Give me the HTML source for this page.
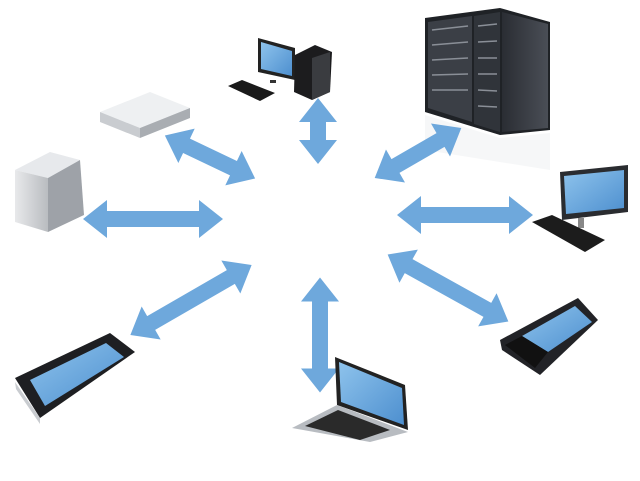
<!DOCTYPE html><html><head><style>html,body{margin:0;padding:0;background:#fff}svg{display:block}</style></head><body>
<svg width="640" height="481" viewBox="0 0 640 481" xmlns="http://www.w3.org/2000/svg">
<defs>
<linearGradient id="rack" x1="0" x2="1"><stop offset="0" stop-color="#2a2d33"/><stop offset="1" stop-color="#4a4e56"/></linearGradient>
<linearGradient id="scr" x1="0" y1="0" x2="1" y2="1"><stop offset="0" stop-color="#8ec3ec"/><stop offset="1" stop-color="#4d8fcf"/></linearGradient>
<linearGradient id="grey" x1="0" x2="1"><stop offset="0" stop-color="#e8e9eb"/><stop offset="1" stop-color="#b9bcc0"/></linearGradient>
</defs>
<polygon points="425,115 500,138 550,133 550,170 425,150" fill="#f2f3f5" opacity="0.7"/>
<g fill="#6ea8dc">
<path transform="translate(318,131) rotate(90)" d="M-33,0 L-9,-19 L-9,-8 L9,-8 L9,-19 L33,0 L9,19 L9,8 L-9,8 L-9,19 Z"/>
<path transform="translate(210,157) rotate(25.5)" d="M-50,0 L-26,-19 L-26,-8 L26,-8 L26,-19 L50,0 L26,19 L26,8 L-26,8 L-26,19 Z"/>
<path transform="translate(153,219)" d="M-70,0 L-46,-19 L-46,-8 L46,-8 L46,-19 L70,0 L46,19 L46,8 L-46,8 L-46,19 Z"/>
<path transform="translate(191,300) rotate(-30)" d="M-70,0 L-46,-19 L-46,-8 L46,-8 L46,-19 L70,0 L46,19 L46,8 L-46,8 L-46,19 Z"/>
<path transform="translate(320,335) rotate(90)" d="M-57.5,0 L-33.5,-19 L-33.5,-8 L33.5,-8 L33.5,-19 L57.5,0 L33.5,19 L33.5,8 L-33.5,8 L-33.5,19 Z"/>
<path transform="translate(448,288) rotate(29)" d="M-69,0 L-45,-19 L-45,-8 L45,-8 L45,-19 L69,0 L45,19 L45,8 L-45,8 L-45,19 Z"/>
<path transform="translate(465,215)" d="M-68,0 L-44,-19 L-44,-8 L44,-8 L44,-19 L68,0 L44,19 L44,8 L-44,8 L-44,19 Z"/>
<path transform="translate(418,153) rotate(-30)" d="M-50,0 L-26,-19 L-26,-8 L26,-8 L26,-19 L50,0 L26,19 L26,8 L-26,8 L-26,19 Z"/>
</g>
<!-- server rack -->
<polygon points="425,18 500,8 550,22 550,130 500,135 425,112" fill="#1f2226"/>
<polygon points="428,22 472,16 472,122 428,108" fill="#3b3f46"/>
<polygon points="474,16 500,12 500,132 474,124" fill="#30343a"/>
<polygon points="502,12 548,24 548,128 502,132" fill="url(#rack)"/>
<g stroke="#8a8f97" stroke-width="1.5">
<line x1="432" y1="30" x2="468" y2="26"/><line x1="432" y1="45" x2="468" y2="42"/><line x1="432" y1="60" x2="468" y2="58"/><line x1="432" y1="75" x2="468" y2="74"/><line x1="432" y1="90" x2="468" y2="90"/>
<line x1="478" y1="26" x2="497" y2="24"/><line x1="478" y1="42" x2="497" y2="41"/><line x1="478" y1="58" x2="497" y2="58"/><line x1="478" y1="74" x2="497" y2="74"/><line x1="478" y1="90" x2="497" y2="91"/><line x1="478" y1="106" x2="497" y2="107"/>
</g>
<!-- desktop -->
<polygon points="258,38 295,48 295,80 258,72" fill="#222"/>
<polygon points="261,42 292,51 292,76 261,69" fill="url(#scr)"/>
<polygon points="295,55 315,45 332,52 330,92 312,100 294,92" fill="#1c1c1e"/>
<polygon points="312,58 330,52 330,92 312,100" fill="#3a3c40"/>
<polygon points="228,86 242,80 275,93 260,101" fill="#1a1a1a"/>
<rect x="270" y="80" width="6" height="3" fill="#333"/>
<!-- grey flat box -->
<polygon points="100,112 150,92 190,108 140,128" fill="#eef0f2"/>
<polygon points="100,112 140,128 140,138 100,122" fill="#c9ccd0"/>
<polygon points="140,128 190,108 190,118 140,138" fill="#a9adb2"/>
<!-- tower server -->
<polygon points="15,170 50,152 80,160 48,178" fill="#e7e9ec"/>
<polygon points="15,170 48,178 48,232 15,222" fill="url(#grey)"/>
<polygon points="48,178 80,160 84,215 48,232" fill="#9ea2a8"/>
<!-- right monitor -->
<polygon points="560,172 628,165 628,212 562,220" fill="#2a2c30"/>
<polygon points="564,176 624,170 624,208 566,214" fill="url(#scr)"/>
<rect x="578" y="218" width="6" height="10" fill="#888"/>
<polygon points="532,222 552,215 605,240 585,252" fill="#1c1c1c"/>
<!-- phone left -->
<polygon points="15,378 110,333 135,352 40,418" fill="#1e1f22"/>
<polygon points="15,382 40,418 40,424 16,389" fill="#c9ccd0"/>
<polygon points="30,380 106,343 124,357 45,406" fill="url(#scr)"/>
<!-- blackberry -->
<polygon points="500,340 578,298 598,320 540,375 502,350" fill="#222327"/>
<polygon points="522,336 575,306 592,322 548,352" fill="url(#scr)"/>
<polygon points="505,345 522,336 548,352 535,368" fill="#111"/>
<!-- laptop -->
<polygon points="335,357 405,385 408,430 337,405" fill="#222"/>
<polygon points="339,362 402,388 404,425 341,402" fill="url(#scr)"/>
<polygon points="292,428 337,405 408,432 370,442" fill="#b8bcc1"/>
<polygon points="305,426 338,410 390,430 360,440" fill="#2a2a2a"/>
</svg>
</body></html>
